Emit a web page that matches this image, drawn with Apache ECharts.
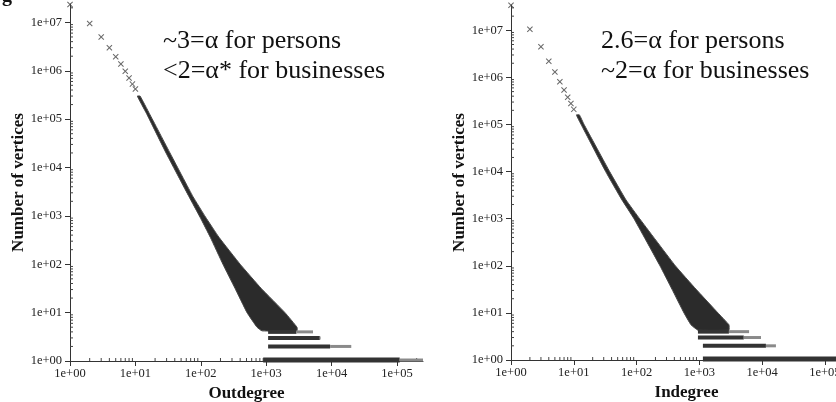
<!DOCTYPE html>
<html>
<head>
<meta charset="utf-8"/>
<title>Outdegree / Indegree distributions</title>
<script src="https://cdn.jsdelivr.net/npm/echarts@6.0.0/dist/echarts.min.js"></script>
<style>
	html, body { margin: 0; padding: 0; background: #fff; }
	#main { width: 836px; height: 402px; }
</style>
</head>
<body>
<div id="main"></div>
<script>
	// axis ticks
	var yTicks = [1, 10, 100, 1e3, 1e4, 1e5, 1e6, 1e7];
	var yTickLabels = ['1e+00', '1e+01', '1e+02', '1e+03', '1e+04', '1e+05', '1e+06', '1e+07'];
	var xTicks = [1, 10, 100, 1e3, 1e4, 1e5];
	var xTickLabels = ['1e+00', '1e+01', '1e+02', '1e+03', '1e+04', '1e+05'];

	// Outdegree: separate points at small degree
	var outDeg = [1, 2, 3, 4, 5, 6, 7, 8, 9, 10];
	var outCnt = [2.35e7, 9.5e6, 5.0e6, 3.0e6, 1.95e6, 1.38e6, 9.8e5, 7.1e5, 5.3e5, 4.2e5];
	// Outdegree: dense band of points (left / right edge per count level)
	var outBandCnt = [3e5, 1.3e5, 2e4, 2500, 950, 360, 100, 32, 10, 5, 4.2];
	var outBandLo = [10.7, 14.8, 29.4, 66, 97, 140, 218, 333, 509, 723, 863];
	var outBandHi = [11.8, 16.4, 33.8, 76, 118, 190, 400, 833, 1940, 2960, 2960];
	// Outdegree: flat rows at small counts
	var outRowCnt = [4, 3, 2, 1];
	var outRowFrom = [1070, 1070, 1070, 900];
	var outRowDense = [2900, 6600, 9500, 1.1e5];
	var outRowTo = [5200, 6800, 20000, 2.5e5];

	// Indegree
	var inDeg = [1, 2, 3, 4, 5, 6, 7, 8, 9, 10];
	var inCnt = [3.4e7, 1.05e7, 4.5e6, 2.2e6, 1.3e6, 8.1e5, 5.4e5, 3.8e5, 2.8e5, 2.1e5];
	var inBandCnt = [1.6e5, 1e5, 1e4, 2500, 1000, 100, 32, 10, 5.6, 4.3];
	var inBandLo = [11.0, 13.1, 32.2, 58.5, 91, 236, 366, 569, 735, 950];
	var inBandHi = [12.3, 14.6, 37.3, 68, 112, 415, 883, 1980, 2960, 2960];
	var inRowCnt = [4, 3, 2, 1];
	var inRowFrom = [950, 950, 1140, 1140];
	var inRowDense = [2960, 5100, 11500, 3e5];
	var inRowTo = [6200, 9600, 16600, 4e5];

	var serif = '"Liberation Serif", "DejaVu Serif", serif';
	var crossPath = 'path://M0,1.2L1.2,0L5,3.8L8.8,0L10,1.2L6.2,5L10,8.8L8.8,10L5,6.2L1.2,10L0,8.8L3.8,5Z';

	// 2..9 times each power of ten, for the small inner ticks
	function minorValues(decades, max) {
		var vals = [];
		for (var k = 0; k < decades; k++) {
			for (var m = 2; m <= 9; m++) {
				var v = m * Math.pow(10, k);
				if (v < max) vals.push(v);
			}
		}
		return vals;
	}

	function decadeLabel(labels) {
		return function (v) {
			return labels[Math.round(Math.log10(v))];
		};
	}

	function mainX(grid, max, name) {
		return {
			type: 'log', gridIndex: grid, position: 'bottom', min: 1, max: max,
			name: name, nameLocation: 'middle', nameGap: 20,
			nameTextStyle: {fontFamily: serif, fontWeight: 'bold', fontSize: 17, color: '#111'},
			axisLine: {show: true, lineStyle: {color: '#333', width: 1}},
			axisTick: {show: true, length: 5, lineStyle: {color: '#333'}, customValues: xTicks},
			axisLabel: {show: true, margin: 6, fontFamily: serif, fontSize: 12.5, color: '#222',
				customValues: xTicks, formatter: decadeLabel(xTickLabels)},
			splitLine: {show: false}
		};
	}
	function mainY(grid, max) {
		return {
			type: 'log', gridIndex: grid, position: 'left', min: 1, max: max,
			name: 'Number of vertices', nameLocation: 'middle', nameGap: 42,
			nameTextStyle: {fontFamily: serif, fontWeight: 'bold', fontSize: 17, color: '#111'},
			axisLine: {show: true, lineStyle: {color: '#333', width: 1}},
			axisTick: {show: true, length: 5, lineStyle: {color: '#333'}, customValues: yTicks},
			axisLabel: {show: true, margin: 8, fontFamily: serif, fontSize: 12.5, color: '#222',
				customValues: yTicks, formatter: decadeLabel(yTickLabels)},
			splitLine: {show: false}
		};
	}

	// inner minor ticks, placed through the axes' own log scales
	function minorTickSeries(axis, xVals, yVals) {
		return {
			type: 'custom', xAxisIndex: axis, yAxisIndex: axis, clip: false, silent: true,
			data: [[1, 1]],
			renderItem: function (params, api) {
				var kids = [];
				xVals.forEach(function (v) {
					var p = api.coord([v, 1]);
					kids.push({type: 'line', shape: {x1: p[0], y1: p[1], x2: p[0], y2: p[1] - 3},
						style: {stroke: '#444', lineWidth: 1}});
				});
				yVals.forEach(function (v) {
					var p = api.coord([1, v]);
					kids.push({type: 'line', shape: {x1: p[0], y1: p[1], x2: p[0] + 3, y2: p[1]},
						style: {stroke: '#444', lineWidth: 1}});
				});
				return {type: 'group', children: kids};
			},
			z: 3
		};
	}

	function pointSeries(axis, deg, cnt) {
		return {
			type: 'scatter', xAxisIndex: axis, yAxisIndex: axis,
			symbol: crossPath, symbolSize: 6, clip: false,
			itemStyle: {color: '#444'},
			data: deg.map(function (d, i) { return [d, cnt[i]]; }),
			z: 5
		};
	}

	function bandSeries(axis, cnt, lo, hi) {
		return {
			type: 'custom', xAxisIndex: axis, yAxisIndex: axis,
			data: [[lo[0], cnt[0]]],
			renderItem: function (params, api) {
				var pts = [];
				for (var i = 0; i < cnt.length; i++) pts.push(api.coord([lo[i], cnt[i]]));
				for (var j = cnt.length - 1; j >= 0; j--) pts.push(api.coord([hi[j], cnt[j]]));
				return {
					type: 'polygon', shape: {points: pts, smooth: 0.1},
					style: {fill: '#2b2b2b', stroke: '#4a4a4a', lineWidth: 1}
				};
			},
			z: 4
		};
	}

	function rowSeries(axis, cnt, from, dense, to) {
		return {
			type: 'custom', xAxisIndex: axis, yAxisIndex: axis, clip: false,
			data: cnt.map(function (c, i) { return [from[i], dense[i], to[i], c]; }),
			renderItem: function (params, api) {
				var c = api.value(3);
				var a = api.coord([api.value(0), c]);
				var b = api.coord([api.value(1), c]);
				var e = api.coord([api.value(2), c]);
				var h = c === 1 ? 5 : 4;
				var lift = c === 1 ? 1 : 0;
				return {
					type: 'group',
					children: [
						{type: 'rect', shape: {x: a[0], y: a[1] - h / 2 - lift, width: b[0] - a[0], height: h},
							style: {fill: '#333'}},
						{type: 'rect', shape: {x: b[0], y: b[1] - 1.5 - lift, width: Math.max(0, e[0] - b[0]), height: 3},
							style: {fill: '#8a8a8a'}}
					]
				};
			},
			z: 4
		};
	}

	var option = {
		backgroundColor: '#fff',
		animation: false,
		grid: [
			{left: 70, top: 4, width: 353, height: 357, outerBoundsMode: 'none'},
			{left: 511, top: 5, width: 351, height: 355, outerBoundsMode: 'none'}
		],
		xAxis: [mainX(0, 2.5e5, 'Outdegree'), mainX(1, 3.9e5, 'Indegree')],
		yAxis: [mainY(0, 2.4e7), mainY(1, 3.45e7)],
		graphic: [
			{type: 'text', left: 2, top: -14, style: {text: 'g', font: 'bold 20px ' + serif, fill: '#111'}},
			{type: 'text', x: 163, y: 26, style: {text: '~3=\u03b1 for persons\n<2=\u03b1* for businesses',
				font: '26px ' + serif, lineHeight: 30, fill: '#111'}},
			{type: 'text', x: 601, y: 26, style: {text: '2.6=\u03b1 for persons\n~2=\u03b1 for businesses',
				font: '26px ' + serif, lineHeight: 30, fill: '#111'}}
		],
		series: [
			minorTickSeries(0, minorValues(6, 2.5e5), minorValues(8, 2.4e7)),
			bandSeries(0, outBandCnt, outBandLo, outBandHi),
			rowSeries(0, outRowCnt, outRowFrom, outRowDense, outRowTo),
			pointSeries(0, outDeg, outCnt),
			minorTickSeries(1, minorValues(6, 3.9e5), minorValues(8, 3.45e7)),
			bandSeries(1, inBandCnt, inBandLo, inBandHi),
			rowSeries(1, inRowCnt, inRowFrom, inRowDense, inRowTo),
			pointSeries(1, inDeg, inCnt)
		]
	};

	var chart = echarts.init(document.getElementById('main'), null, {renderer: 'canvas'});
	chart.setOption(option);
</script>
</body>
</html>
